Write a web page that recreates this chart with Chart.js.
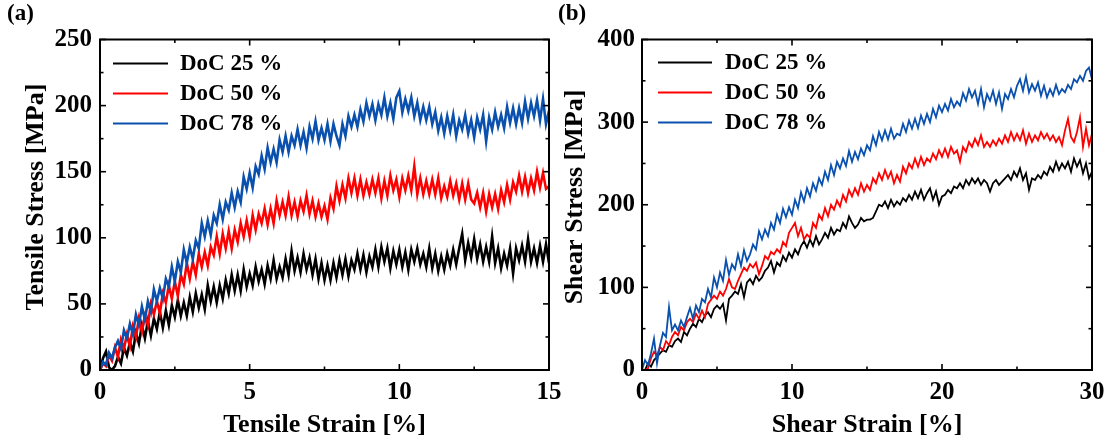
<!DOCTYPE html>
<html><head><meta charset="utf-8">
<script src="https://cdn.jsdelivr.net/npm/chart.js@4.4.1/dist/chart.umd.min.js"></script>
<style>
html,body{margin:0;padding:0;background:#fff;overflow:hidden;}
#wrap{position:relative;width:1115px;height:443px;background:#fff;}
#ca{position:absolute;left:0;top:0;}
#cb{position:absolute;left:557px;top:0;}
</style></head><body>
<div id="wrap"><canvas id="ca" width="575" height="443"></canvas><canvas id="cb" width="558" height="443"></canvas></div>
<script>
// ---------- Panel (a): tensile ----------
const seriesLabels = ['DoC 25 %', 'DoC 50 %', 'DoC 78 %'];
const strainA = [0,0.1,0.2,0.3,0.4,0.5,0.6,0.7,0.8,0.9,
1,1.1,1.2,1.3,1.4,1.5,1.6,1.7,1.8,1.9,
2,2.1,2.2,2.3,2.4,2.5,2.6,2.7,2.8,2.9,
3,3.1,3.2,3.3,3.4,3.5,3.6,3.7,3.8,3.9,
4,4.1,4.2,4.3,4.4,4.5,4.6,4.7,4.8,4.9,
5,5.1,5.2,5.3,5.4,5.5,5.6,5.7,5.8,5.9,
6,6.1,6.2,6.3,6.4,6.5,6.6,6.7,6.8,6.9,
7,7.1,7.2,7.3,7.4,7.5,7.6,7.7,7.8,7.9,
8,8.1,8.2,8.3,8.4,8.5,8.6,8.7,8.8,8.9,
9,9.1,9.2,9.3,9.4,9.5,9.6,9.7,9.8,9.9,
10,10.1,10.2,10.3,10.4,10.5,10.6,10.7,10.8,10.9,
11,11.1,11.2,11.3,11.4,11.5,11.6,11.7,11.8,11.9,
12,12.1,12.2,12.3,12.4,12.5,12.6,12.7,12.8,12.9,
13,13.1,13.2,13.3,13.4,13.5,13.6,13.7,13.8,13.9,
14,14.1,14.2,14.3,14.4,14.5,14.6,14.7,14.8,14.9,
15];
const tensile25 = [0,
9,14,2,0,3, 10,5,17,11,21, 14,28,20,34,24, 37,26,39,31,44,
32,45,34,49,40, 53,41,51,41,55, 44,58,47,57,46, 64,52,63,51,64,
54,68,58,72,60, 72,60,76,63,73, 64,78,67,76,65, 79,69,83,69,78,
70,84,72,90,75, 85,74,88,76,85, 72,84,69,81,68, 79,68,81,70,83,
72,84,71,83,76, 88,76,87,74,86, 78,91,78,93,82, 92,77,90,80,91,
78,89,76,91,82, 92,80,88,78,92, 77,88,75,86,76, 88,79,91,80,92,
103,83,96,85,99, 84,95,82,93,82, 101,81,92,77,88, 79,92,73,92,83,
94,82,99,82,92, 81,94,82,95,81];
const tensile50 = [0,
5,3,11,7,17, 10,23,16,27,18, 33,25,39,29,41, 34,50,42,52,43,
58,51,64,54,67, 56,72,65,81,69, 82,72,88,78,89, 79,93,87,101,88,
103,92,105,92,106, 97,111,101,113,101, 117,106,118,111,122, 110,122,111,128,117,
127,117,131,117,127, 116,128,120,132,118, 128,116,126,116,124, 114,130,122,139,128,
140,130,145,134,145, 132,144,132,142,133, 144,134,145,130,143, 132,147,136,144,131,
145,136,147,136,154, 133,145,133,143,133, 144,133,145,130,139, 131,143,132,141,129,
141,129,141,129,126, 134,123,134,120,133, 123,133,122,136,127, 140,129,142,135,147,
135,146,134,145,136, 150,138,149,137,139];
const tensile78 = [0,
6,4,13,9,17, 22,16,30,24,35, 27,42,34,48,38, 52,44,61,52,62,
54,69,63,78,67, 82,74,91,81,93, 84,98,92,111,101, 113,102,117,111,125,
114,127,121,134,123, 135,127,146,137,149, 138,154,148,162,152, 168,157,167,157,174,
165,177,165,177,170, 182,170,180,168,184, 175,188,174,183,174, 186,173,186,177,170,
186,177,192,184,193, 184,197,188,202,192, 201,189,201,193,206, 192,202,190,206,211,
195,205,196,206,192, 202,189,199,189,199, 186,195,181,191,179, 192,181,193,177,189,
182,193,179,189,176, 191,182,193,173,191, 182,195,184,193,183, 199,187,198,186,198,
187,203,190,202,192, 204,189,205,186,196];
const xTicksA = [0, 5, 10, 15];
const xMinorA = [2.5, 7.5, 12.5];
const yTicksA = [0, 50, 100, 150, 200, 250];
const yMinorA = [25, 75, 125, 175, 225];

// ---------- Panel (b): shear ----------
const strainB = [0,0.2,0.4,0.6,0.8,1,1.2,1.4,1.6,1.8,
2,2.2,2.4,2.6,2.8,3,3.2,3.4,3.6,3.8,
4,4.2,4.4,4.6,4.8,5,5.2,5.4,5.6,5.8,
6,6.2,6.4,6.6,6.8,7,7.2,7.4,7.6,7.8,
8,8.2,8.4,8.6,8.8,9,9.2,9.4,9.6,9.8,
10,10.2,10.4,10.6,10.8,11,11.2,11.4,11.6,11.8,
12,12.2,12.4,12.6,12.8,13,13.2,13.4,13.6,13.8,
14,14.2,14.4,14.6,14.8,15,15.2,15.4,15.6,15.8,
16,16.2,16.4,16.6,16.8,17,17.2,17.4,17.6,17.8,
18,18.2,18.4,18.6,18.8,19,19.2,19.4,19.6,19.8,
20,20.2,20.4,20.6,20.8,21,21.2,21.4,21.6,21.8,
22,22.2,22.4,22.6,22.8,23,23.2,23.4,23.6,23.8,
24,24.2,24.4,24.6,24.8,25,25.2,25.4,25.6,25.8,
26,26.2,26.4,26.6,26.8,27,27.2,27.4,27.6,27.8,
28,28.2,28.4,28.6,28.8,29,29.2,29.4,29.6,29.8,
30];
const shear25 = [0,
0,8,4,12,16, 20,24,22,30,28, 35,38,34,46,42, 50,56,52,62,58,
66,70,64,74,78, 74,80,60,86,90, 95,92,104,88,106, 110,104,114,108,112,
120,124,132,118,130, 126,138,132,142,136, 146,140,150,156,148, 158,150,162,152,158,
166,160,172,164,170, 168,178,172,186,178, 172,176,184,180,182, 182,184,192,200,198,
204,196,206,198,204, 200,208,204,212,206, 216,208,218,206,214, 220,206,216,200,210,
212,218,214,222,220, 226,220,230,224,232, 226,232,224,230,226, 216,226,230,224,228,
232,236,230,240,234, 244,230,238,218,232, 230,236,232,240,236, 246,240,252,242,250,
244,252,240,256,246, 254,238,250,232,240];
const shear50 = [0,
0,2,14,22,18, 28,24,35,30,40, 46,42,52,48,58, 62,58,68,62,72,
64,80,85,90,86, 95,90,98,110,100, 98,108,116,124,120, 128,124,130,116,126,
138,134,143,140,146, 142,155,150,166,172, 178,162,172,158,164, 160,178,172,188,182,
196,186,200,194,205, 198,212,204,218,210, 220,212,226,216,224, 218,232,226,238,230,
242,232,240,226,236, 228,246,238,250,244, 256,246,258,248,256, 252,262,255,266,258,
268,258,270,262,266, 252,270,264,276,270, 280,272,284,270,276, 270,278,272,280,274,
284,276,288,278,286, 278,290,274,286,276, 284,278,288,280,286, 278,284,276,282,272,
290,304,282,276,288, 306,270,292,272,286];
const shear78 = [0,
12,6,20,38,8, 30,45,40,76,48, 55,48,60,52,64, 75,62,78,70,86,
82,98,88,112,100, 118,108,133,115,128, 122,140,126,145,132, 140,152,146,168,158,
170,162,178,170,188, 178,195,185,197,188, 206,196,215,204,220, 210,226,217,232,224,
240,230,248,236,252, 244,256,247,265,252, 264,255,268,260,272, 266,283,272,288,278,
290,279,292,280,286, 284,298,288,302,292, 304,293,308,298,310, 300,316,306,320,312,
322,314,328,318,325, 320,335,326,340,330, 338,322,340,318,334, 326,338,322,336,316,
334,328,340,330,344, 352,338,355,336,346, 338,348,332,344,330, 340,332,345,334,340,
336,345,340,352,348, 356,350,362,366,352];
const xTicksB = [0, 10, 20, 30];
const xMinorB = [5, 15, 25];
const yTicksB = [0, 100, 200, 300, 400];
const yMinorB = [50, 150, 250, 350];

const seriesColors = ['#000000', '#ff0000', '#0a50ae'];
const FONT = '"Liberation Serif", "Times New Roman", serif';

function pts(xs, ys) { return xs.map((x, i) => ({ x: x, y: ys[i] })); }

const decoPlugin = {
  id: 'deco',
  afterDatasetsDraw(chart, args, o) {
    const ctx = chart.ctx, a = chart.chartArea, xs = chart.scales.x, ys = chart.scales.y;
    ctx.save();
    ctx.strokeStyle = '#000';
    ctx.lineWidth = 2;
    ctx.strokeRect(a.left, a.top, a.right - a.left, a.bottom - a.top);
    ctx.lineWidth = 1.6;
    const seg = (x1, y1, x2, y2) => { ctx.beginPath(); ctx.moveTo(x1, y1); ctx.lineTo(x2, y2); ctx.stroke(); };
    const xt = (v, L) => { const p = xs.getPixelForValue(v); seg(p, a.bottom, p, a.bottom - L); seg(p, a.top, p, a.top + L); };
    const yt = (v, L) => { const p = ys.getPixelForValue(v); seg(a.left, p, a.left + L, p); seg(a.right, p, a.right - L, p); };
    o.xMajor.forEach(v => xt(v, 6)); o.xMinor.forEach(v => xt(v, 3.5));
    o.yMajor.forEach(v => yt(v, 6)); o.yMinor.forEach(v => yt(v, 3.5));
    // legend
    ctx.font = 'bold 23px ' + FONT;
    ctx.textBaseline = 'middle';
    ctx.textAlign = 'left';
    chart.data.datasets.forEach((ds, i) => {
      const y = a.top + o.legTop + i * 30;
      ctx.strokeStyle = ds.borderColor; ctx.lineWidth = 2;
      seg(a.left + o.legX1, y, a.left + o.legX2, y);
      ctx.fillStyle = '#000';
      ctx.fillText(ds.label, a.left + o.legText, y + 1);
    });
    // y title
    ctx.save();
    ctx.translate(o.yTitleX, o.yTitleY);
    ctx.rotate(-Math.PI / 2);
    ctx.font = 'bold 26px ' + FONT;
    ctx.textAlign = 'center';
    ctx.textBaseline = 'middle';
    ctx.fillText(o.yTitle, 0, 0);
    ctx.restore();
    // panel label
    ctx.font = 'bold 23px ' + FONT;
    ctx.textAlign = 'left';
    ctx.textBaseline = 'alphabetic';
    ctx.fillStyle = '#000';
    ctx.fillText(o.panel, o.panelX, 20);
    ctx.restore();
  }
};

function makeChart(id, xs, series, cfg) {
  const tickFont = { family: FONT, size: 25, weight: 'bold' };
  return new Chart(document.getElementById(id), {
    type: 'line',
    data: {
      datasets: series.map((ys, i) => ({
        label: seriesLabels[i],
        data: pts(xs, ys),
        borderColor: seriesColors[i],
        borderWidth: cfg.lw,
        pointRadius: 0,
        tension: 0,
        fill: false,
        order: 3 - i
      }))
    },
    options: {
      responsive: false,
      animation: false,
      devicePixelRatio: 1,
      layout: { padding: { left: 0, right: cfg.padR, top: cfg.padT, bottom: 0 } },
      plugins: {
        legend: { display: false },
        tooltip: { enabled: false },
        deco: cfg.deco
      },
      scales: {
        x: {
          type: 'linear', position: 'bottom', min: cfg.xMin, max: cfg.xMax,
          afterBuildTicks: s => { s.ticks = cfg.xMajor.map(v => ({ value: v })); },
          afterFit: s => { s.height = 443 - 370; s.paddingLeft = 0; s.paddingRight = 0; },
          grid: { display: false, drawTicks: false },
          border: { display: false },
          ticks: { font: tickFont, color: '#000', padding: 8, maxRotation: 0, autoSkip: false },
          title: { display: true, text: cfg.xTitle, color: '#000', font: { family: FONT, size: 26, weight: 'bold' }, padding: { top: 0, bottom: 2 } }
        },
        y: {
          type: 'linear', position: 'left', min: cfg.yMin, max: cfg.yMax,
          afterBuildTicks: s => { s.ticks = cfg.yMajor.map(v => ({ value: v })); },
          afterFit: s => { s.width = cfg.yW; s.paddingTop = 0; s.paddingBottom = 0; },
          grid: { display: false, drawTicks: false },
          border: { display: false },
          ticks: { font: tickFont, color: '#000', padding: cfg.yPad, autoSkip: false }
        }
      }
    },
    plugins: [decoPlugin]
  });
}

makeChart('ca', strainA, [tensile25, tensile50, tensile78], {
  lw: 2.6, padR: 575 - 549, padT: 39.5, yW: 100, yPad: 8,
  xMin: 0, xMax: 15, yMin: 0, yMax: 250,
  xMajor: xTicksA, yMajor: yTicksA,
  xTitle: 'Tensile Strain [%]',
  deco: { xMajor: xTicksA, xMinor: xMinorA, yMajor: yTicksA, yMinor: yMinorA,
    legTop: 24, legX1: 13, legX2: 68, legText: 80,
    yTitle: 'Tensile Stress [MPa]', yTitleX: 36, yTitleY: 197, panel: '(a)', panelX: 7 }
});
makeChart('cb', strainB, [shear25, shear50, shear78], {
  lw: 1.8, padR: 558 - 535, padT: 39.5, yW: 85, yPad: 7,
  xMin: 0, xMax: 30, yMin: 0, yMax: 400,
  xMajor: xTicksB, yMajor: yTicksB,
  xTitle: 'Shear Strain [%]',
  deco: { xMajor: xTicksB, xMinor: xMinorB, yMajor: yTicksB, yMinor: yMinorB,
    legTop: 23, legX1: 16, legX2: 70, legText: 83,
    yTitle: 'Shear Stress [MPa]', yTitleX: 18, yTitleY: 197, panel: '(b)', panelX: 1 }
});
</script>
</body></html>
